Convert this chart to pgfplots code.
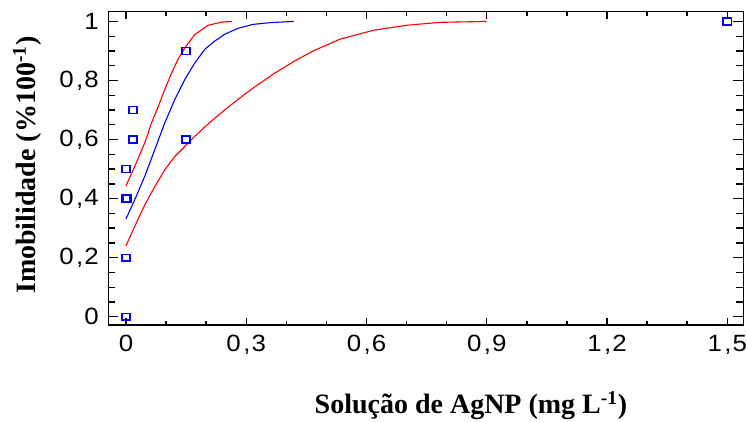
\documentclass[border=0pt]{standalone}
\usepackage{fontspec}
\setmainfont{Liberation Serif}
\newfontfamily\tickfont[FakeStretch=1.1]{Liberation Sans}
\usepackage{pgfplots}
\pgfplotsset{compat=1.18}
\newcommand\dc{\hspace{2.5pt},\hspace{1pt}}
\begin{document}
\begin{tikzpicture}
\path[use as bounding box] (-108.3pt,-96pt) rectangle (637.7pt,325pt);
\begin{axis}[
  at={(0,0)}, anchor=south west,
  scale only axis, width=635pt, height=313.3pt,
  xmin=-0.044, xmax=1.54, ymin=-0.028, ymax=1.033,
  xtick={0,0.3,0.6,0.9,1.2,1.5},
  xticklabels={0,0\dc 3,0\dc 6,0\dc 9,1\dc 2,1\dc 5},
  ytick={0,0.2,0.4,0.6,0.8,1},
  yticklabels={0,0\dc 2,0\dc 4,0\dc 6,0\dc 8,1},
  minor x tick num=2,
  minor y tick num=3,
  tick align=inside,
  axis line style={line width=1.4pt},
  tick style={line width=1.4pt, black},
  xtick style={/pgfplots/major tick length=7pt, /pgfplots/minor tick length=4pt},
  ytick style={/pgfplots/major tick length=10pt, /pgfplots/minor tick length=7pt},
  xticklabel style={font=\tickfont\fontsize{23.5}{26}\selectfont, yshift=-7pt},
  yticklabel style={font=\tickfont\fontsize{23.5}{26}\selectfont, xshift=-6pt},
  xlabel={Solução de AgNP (mg L\textsuperscript{-1})},
  ylabel={Imobilidade (\%100\textsuperscript{-1})},
  label style={font=\bfseries\fontsize{28}{30}\selectfont},
  xlabel style={at={(axis description cs:0.571,-0.281)}, anchor=base},
  ylabel style={at={(axis description cs:-0.1154,0.51)}, anchor=base},
]
% upper red confidence band
\addplot[red, line width=1.1pt] coordinates {
(0,0.443) (0.022,0.509) (0.047,0.589) (0.064,0.657) (0.081,0.713)
(0.097,0.770) (0.114,0.826) (0.130,0.872) (0.147,0.911) (0.172,0.956)
(0.205,0.987) (0.239,0.998) (0.265,1.0)};
% blue fitted curve
\addplot[blue, line width=1.1pt] coordinates {
(0,0.331) (0.022,0.396) (0.047,0.476) (0.072,0.566) (0.097,0.657)
(0.122,0.736) (0.147,0.804) (0.172,0.860) (0.197,0.906) (0.222,0.934)
(0.247,0.957) (0.280,0.977) (0.317,0.990) (0.360,0.996) (0.418,1.0)};
% lower red confidence band
\addplot[red, line width=1.1pt] coordinates {
(0,0.240) (0.022,0.306) (0.047,0.379) (0.072,0.441) (0.097,0.498)
(0.122,0.543) (0.147,0.577) (0.172,0.611) (0.197,0.643) (0.222,0.673)
(0.247,0.701) (0.272,0.728) (0.295,0.752) (0.318,0.775) (0.368,0.822)
(0.418,0.864) (0.467,0.900) (0.534,0.940) (0.617,0.970) (0.700,0.987)
(0.784,0.997) (0.900,1.0)};
% observed data
\addplot[only marks, mark=square, mark size=3.4pt, blue,
  mark options={xscale=1.2, line width=1.5pt}] coordinates {
(0,0) (0,0.2) (0,0.4) (0.003,0.4) (0,0.5) (0.018,0.6) (0.018,0.7)
(0.15,0.6) (0.15,0.9) (1.5,1.0)};
\end{axis}
\end{tikzpicture}
\end{document}
